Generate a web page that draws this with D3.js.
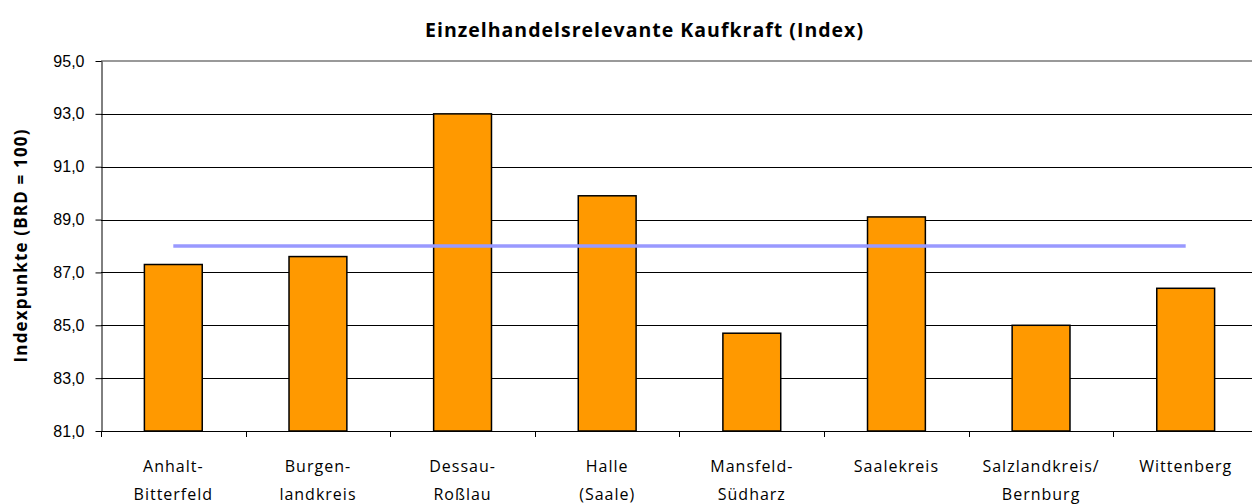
<!DOCTYPE html>
<html>
<head>
<meta charset="utf-8">
<script src="https://cdn.jsdelivr.net/npm/d3@7"></script>
<style>
  html, body { margin: 0; padding: 0; background: #fff; }
  svg { display: block; }
</style>
</head>
<body>
<svg id="chart" width="1252" height="504"></svg>
<script>
// ---- Data ----
const categories = ["Anhalt-Bitterfeld", "Burgenlandkreis", "Dessau-Roßlau", "Halle (Saale)", "Mansfeld-Südharz", "Saalekreis", "Salzlandkreis/Bernburg", "Wittenberg"];
const categoryLabels = [["Anhalt-", "Bitterfeld"], ["Burgen-", "landkreis"], ["Dessau-", "Roßlau"], ["Halle", "(Saale)"], ["Mansfeld-", "Südharz"], ["Saalekreis"], ["Salzlandkreis/", "Bernburg"], ["Wittenberg"]];
const kaufkraft = [87.3, 87.6, 93.0, 89.9, 84.7, 89.1, 85.0, 86.4];
const average = [88.0, 88.0, 88.0, 88.0, 88.0, 88.0, 88.0, 88.0];
const yTicks = [81, 83, 85, 87, 89, 91, 93, 95];
const title = "Einzelhandelsrelevante Kaufkraft (Index)";
const yTitle = "Indexpunkte (BRD = 100)";

// ---- Layout ----
const svg = d3.select("#chart");
const pLeft = 101, pTop = 61, pBottom = 431, pRight = 1258;

const x = d3.scaleBand().domain(categories).range([pLeft, pRight]).paddingInner(0.6).paddingOuter(0.3);
const y = d3.scaleLinear().domain([81, 95]).range([pBottom, pTop]);
const fmt = v => d3.format(".1f")(v).replace(".", ",");

// gridlines
svg.append("g").selectAll("line").data(yTicks.filter(t => t > 81 && t < 95)).join("line")
  .attr("x1", pLeft).attr("x2", pRight)
  .attr("y1", d => Math.round(y(d)) + 0.5).attr("y2", d => Math.round(y(d)) + 0.5)
  .attr("stroke", "#000").attr("stroke-width", 1);

// top border (grey)
svg.append("line").attr("x1", pLeft).attr("x2", pRight)
  .attr("y1", y(95)).attr("y2", y(95))
  .attr("stroke", "#999").attr("stroke-width", 2);

// bars
svg.append("g").selectAll("rect").data(kaufkraft).join("rect")
  .attr("x", (d, i) => x(categories[i]))
  .attr("y", d => y(d))
  .attr("width", x.bandwidth())
  .attr("height", d => y(81) - y(d))
  .attr("fill", "#FF9900")
  .attr("stroke", "#000").attr("stroke-width", 1.5);

// average line
const line = d3.line().x((d, i) => x(categories[i]) + x.bandwidth() / 2).y(d => y(d));
svg.append("path").datum(average).attr("d", line)
  .attr("fill", "none").attr("stroke", "#9999FF").attr("stroke-width", 3.5);

// y axis
const yAxis = d3.axisLeft(y).tickValues(yTicks).tickFormat(fmt).tickSize(6).tickPadding(11).tickSizeOuter(0);
const gy = svg.append("g").attr("transform", `translate(${pLeft + 0.5},0)`).call(yAxis);
gy.select(".domain").attr("stroke", "#000");
gy.selectAll(".tick line").attr("stroke", "#000");
gy.selectAll(".tick text").attr("font-family", "'Liberation Sans', Arial, sans-serif")
  .attr("font-size", 16).attr("fill", "#000");

// x axis baseline
svg.append("line").attr("x1", pLeft).attr("x2", pRight)
  .attr("y1", pBottom + 0.5).attr("y2", pBottom + 0.5)
  .attr("stroke", "#000").attr("stroke-width", 1);

// x boundary ticks
const bounds = categories.map(c => x(c) - x.step() * x.paddingOuter());
svg.append("g").selectAll("line").data(bounds).join("line")
  .attr("x1", d => Math.round(d) + 0.5).attr("x2", d => Math.round(d) + 0.5)
  .attr("y1", pBottom).attr("y2", pBottom + 6)
  .attr("stroke", "#000").attr("stroke-width", 1);

// x labels
const lab = svg.append("g").attr("font-family", "'Open Sans', sans-serif").attr("font-size", 16)
  .attr("letter-spacing", "1px").attr("fill", "#000").attr("text-anchor", "middle");
categoryLabels.forEach((lines, i) => {
  const cx = x(categories[i]) + x.bandwidth() / 2;
  const t = lab.append("text");
  lines.forEach((s, j) => {
    t.append("tspan").attr("x", cx).attr("y", 472 + j * 28).text(s);
  });
});

// title
svg.append("text").attr("x", 644).attr("y", 37).attr("text-anchor", "middle")
  .attr("font-family", "'Open Sans', sans-serif").attr("font-weight", "bold").attr("font-size", 19.5)
  .attr("textLength", 438).attr("lengthAdjust", "spacing")
  .text(title);

// y title
svg.append("text").attr("transform", `translate(27,${(pTop + pBottom) / 2}) rotate(-90)`)
  .attr("text-anchor", "middle")
  .attr("font-family", "'Open Sans', sans-serif").attr("font-weight", "bold").attr("font-size", 17)
  .attr("textLength", 233).attr("lengthAdjust", "spacing")
  .text(yTitle);
</script>
</body>
</html>
